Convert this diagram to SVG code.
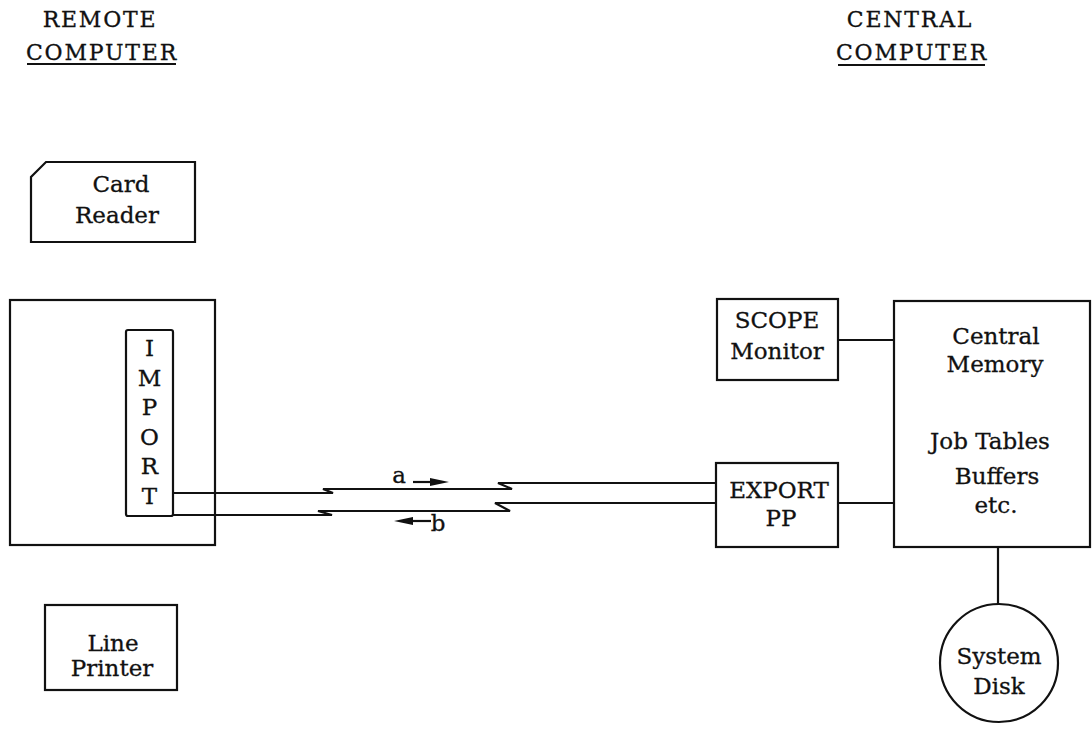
<svg xmlns="http://www.w3.org/2000/svg" width="1092" height="730" viewBox="0 0 1092 730">
<style>
.t{font-family:"DejaVu Serif","Liberation Serif",serif;font-size:23px;fill:#111;stroke:#111;stroke-width:0.3;text-anchor:middle}
.h{font-size:22px;letter-spacing:1.8px}
.b{fill:none;stroke:#111;stroke-width:2.2}
.c{fill:none;stroke:#111;stroke-width:2.2}
</style>
<rect width="1092" height="730" fill="#fff"/>
<g id="header-remote">
<text class="t h" x="100" y="27">REMOTE</text>
<text class="t h" x="102" y="60">COMPUTER</text>
<line class="c" x1="27" y1="64" x2="176" y2="64"/>
</g>
<g id="header-central">
<text class="t h" x="910" y="27">CENTRAL</text>
<text class="t h" x="912" y="60">COMPUTER</text>
<line class="c" x1="838" y1="65" x2="985" y2="65"/>
</g>
<g id="card-reader">
<path class="b" d="M46,162 H195 V242 H31 V177 Z"/>
<text class="t" x="121" y="192">Card</text>
<text class="t" x="117" y="223">Reader</text>
</g>
<g id="remote-computer">
<rect class="b" x="10" y="300" width="205" height="245"/>
</g>
<g id="import">
<rect class="b" x="126" y="330" width="47" height="186" rx="2"/>
<text class="t" x="149.5" y="356">I</text>
<text class="t" x="149.5" y="386">M</text>
<text class="t" x="149.5" y="415">P</text>
<text class="t" x="149.5" y="445">O</text>
<text class="t" x="149.5" y="474">R</text>
<text class="t" x="149.5" y="504">T</text>
</g>
<g id="line-printer">
<rect class="b" x="45" y="605" width="132" height="85"/>
<text class="t" x="113" y="651">Line</text>
<text class="t" x="112" y="676">Printer</text>
</g>
<g id="scope-monitor">
<rect class="b" x="717" y="299" width="121" height="81"/>
<text class="t" x="777" y="328">SCOPE</text>
<text class="t" x="777" y="359">Monitor</text>
</g>
<g id="export-pp">
<rect class="b" x="716" y="463" width="122" height="84"/>
<text class="t" x="779" y="498">EXPORT</text>
<text class="t" x="781" y="526">PP</text>
</g>
<g id="central-memory">
<rect class="b" x="894" y="301" width="196" height="246"/>
<text class="t" x="996" y="344">Central</text>
<text class="t" x="995" y="372">Memory</text>
<text class="t" x="990" y="449">Job Tables</text>
<text class="t" x="997" y="484">Buffers</text>
<text class="t" x="996" y="513">etc.</text>
</g>
<g id="system-disk">
<circle class="b" cx="999" cy="663" r="59"/>
<text class="t" x="999" y="664">System</text>
<text class="t" x="999" y="694">Disk</text>
</g>
<g id="connectors">
<path class="c" d="M173,493 H333 L323,489 H512 L498,483 H716"/>
<path class="c" d="M173,515 H332 L318,511 H510 L495,503 H716"/>
<line class="c" x1="838" y1="340" x2="894" y2="340"/>
<line class="c" x1="838" y1="503" x2="894" y2="503"/>
<line class="c" x1="998" y1="547" x2="998" y2="604"/>
<text class="t" x="399" y="483">a</text>
<line class="c" x1="413" y1="482" x2="436" y2="482"/>
<polygon points="449,482 430,478 430,486" fill="#111"/>
<text class="t" x="438" y="531">b</text>
<line class="c" x1="407" y1="521" x2="431" y2="521"/>
<polygon points="394,521 413,517 413,525" fill="#111"/>
</g>
</svg>
